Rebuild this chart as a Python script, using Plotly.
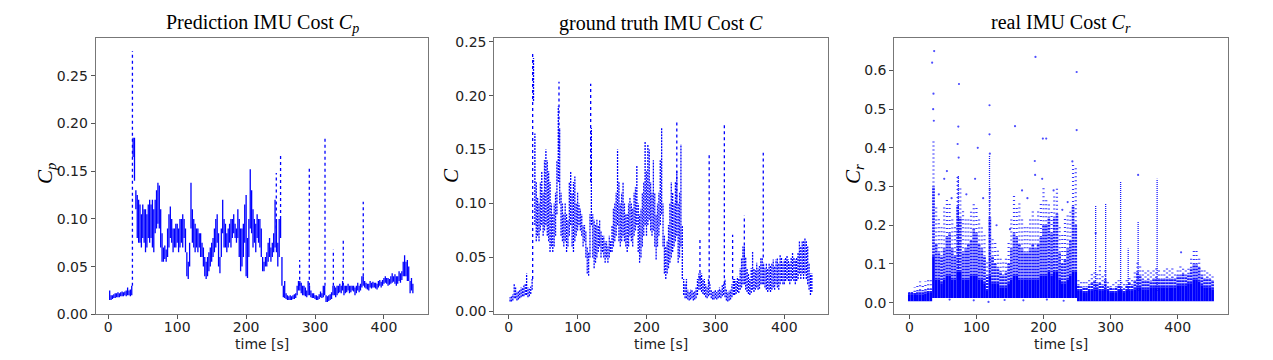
import plotly.graph_objects as go

# ---------------- Panel 1: Prediction IMU cost (2 s bins, t = 2 ... 442) -------------
pred_lo = [
    .015, .015, .016, .017, .017, .018, .018, .018, .019, .019,
    .019, .020, .019, .020, .020, .019, .020, .165, .140, .110,
    .080, .075, .075, .070, .080, .075, .065, .070, .080, .075,
    .080, .070, .065, .085, .090, .095, .090, .070, .055, .055,
    .058, .055, .060, .070, .080, .075, .065, .070, .070, .075,
    .065, .070, .075, .070, .080, .065, .040, .037, .050, .090,
    .075, .070, .065, .070, .065, .070, .060, .060, .050, .040,
    .037, .040, .045, .050, .055, .060, .065, .070, .075, .050,
    .043, .060, .085, .070, .070, .065, .070, .075, .070, .080,
    .085, .080, .075, .080, .060, .045, .050, .060, .075, .040,
    .038, .060, .090, .085, .070, .075, .065, .080, .075, .070,
    .060, .045, .045, .050, .050, .055, .060, .055, .060, .065,
    .070, .065, .050, .060, .080, .030, .018, .017, .016, .015,
    .015, .015, .015, .016, .016, .017, .020, .025, .025, .022,
    .020, .020, .019, .018, .020, .020, .018, .017, .017, .016,
    .015, .015, .016, .018, .017, .018, .020, .013, .013, .014,
    .015, .016, .020, .020, .018, .020, .022, .023, .022, .025,
    .020, .022, .023, .025, .022, .023, .025, .024, .020, .022,
    .025, .023, .025, .028, .030, .028, .027, .026, .025, .028,
    .027, .028, .028, .027, .026, .028, .030, .028, .030, .032,
    .033, .032, .030, .031, .032, .033, .034, .032, .030, .032,
    .035, .033, .036, .040, .040, .040, .035, .035, .022, .025,
    .022]
pred_hi = [
    .025, .020, .020, .021, .022, .022, .023, .022, .023, .024,
    .023, .024, .025, .028, .025, .026, .030, .185, .185, .130,
    .125, .120, .115, .105, .115, .110, .110, .105, .115, .120,
    .115, .120, .110, .120, .130, .138, .135, .110, .085, .070,
    .072, .068, .090, .105, .113, .100, .090, .090, .095, .095,
    .090, .100, .100, .105, .100, .090, .065, .055, .075, .138,
    .110, .100, .095, .090, .090, .085, .085, .075, .070, .060,
    .055, .060, .065, .070, .075, .080, .090, .100, .105, .085,
    .060, .090, .120, .100, .095, .085, .090, .095, .100, .100,
    .105, .095, .090, .110, .100, .090, .090, .095, .115, .125,
    .080, .100, .152, .130, .110, .100, .095, .105, .100, .100,
    .090, .060, .055, .060, .065, .075, .080, .070, .075, .085,
    .120, .100, .075, .100, .100, .060, .030, .035, .022, .020,
    .019, .020, .019, .020, .021, .022, .030, .035, .035, .033,
    .030, .030, .028, .025, .035, .030, .025, .022, .022, .020,
    .020, .019, .021, .024, .022, .030, .030, .020, .019, .020,
    .021, .023, .030, .030, .028, .030, .030, .032, .030, .035,
    .030, .030, .030, .032, .030, .030, .030, .030, .028, .030,
    .033, .030, .032, .040, .040, .035, .033, .032, .032, .035,
    .033, .034, .033, .033, .032, .035, .036, .034, .036, .038,
    .040, .038, .038, .037, .040, .043, .040, .042, .040, .040,
    .045, .043, .045, .055, .062, .055, .057, .050, .035, .038,
    .032]
pred_spike_t = [35, 243.8, 250, 277.7, 291.7, 314.5, 326.6, 341, 370]
pred_spike_lo = [.030, .090, .100, .030, .030, .030, .030, .030, .040]
pred_spike_hi = [.276, .148, .168, .057, .155, .186, .068, .078, .118]

# ---------------- Panel 2: ground truth IMU cost (2 s bins, t = 2 ... 440) -----------
gt_lo = [
    .009, .009, .010, .012, .012, .010, .011, .012, .013, .014,
    .014, .015, .015, .013, .014, .016, .020, .195, .080, .065,
    .070, .065, .075, .080, .070, .075, .080, .070, .065, .055,
    .060, .055, .060, .070, .090, .120, .100, .070, .065, .060,
    .065, .055, .060, .070, .080, .060, .055, .065, .070, .075,
    .080, .075, .070, .060, .065, .050, .035, .033, .050, .080,
    .050, .040, .045, .050, .055, .060, .050, .055, .050, .045,
    .050, .045, .050, .055, .055, .060, .065, .070, .080, .065,
    .060, .065, .070, .065, .060, .055, .060, .070, .065, .060,
    .070, .075, .080, .055, .045, .050, .060, .070, .080, .070,
    .080, .085, .075, .070, .075, .060, .048, .060, .070, .080,
    .090, .060, .035, .030, .035, .040, .045, .050, .055, .060,
    .065, .070, .045, .050, .060, .030, .015, .012, .012, .011,
    .010, .011, .012, .010, .011, .012, .015, .020, .020, .018,
    .016, .015, .013, .012, .014, .015, .012, .011, .011, .012,
    .011, .012, .013, .012, .014, .015, .013, .010, .009, .010,
    .011, .013, .015, .015, .016, .018, .017, .020, .022, .025,
    .025, .020, .018, .016, .015, .017, .020, .018, .020, .022,
    .020, .021, .025, .025, .025, .022, .020, .018, .020, .018,
    .020, .022, .020, .025, .022, .020, .025, .028, .025, .025,
    .028, .030, .028, .025, .028, .030, .028, .025, .028, .030,
    .035, .030, .035, .030, .035, .030, .025, .020, .015, .018]
gt_hi = [
    .013, .014, .016, .026, .022, .018, .019, .020, .022, .022,
    .024, .025, .035, .022, .021, .023, .030, .235, .165, .120,
    .105, .100, .120, .130, .110, .140, .150, .140, .130, .120,
    .100, .090, .100, .110, .140, .190, .170, .110, .100, .090,
    .100, .090, .085, .120, .130, .110, .120, .125, .100, .110,
    .100, .095, .090, .080, .080, .075, .060, .055, .090, .170,
    .090, .085, .080, .085, .080, .085, .075, .070, .070, .065,
    .065, .060, .070, .065, .080, .095, .100, .110, .150, .120,
    .100, .110, .120, .100, .090, .090, .100, .105, .100, .095,
    .110, .115, .135, .100, .090, .095, .110, .120, .157, .130,
    .155, .150, .120, .110, .140, .110, .090, .100, .110, .140,
    .170, .100, .070, .060, .065, .080, .100, .120, .110, .100,
    .120, .130, .100, .110, .155, .080, .030, .025, .030, .020,
    .018, .020, .020, .018, .019, .022, .030, .035, .035, .035,
    .030, .030, .025, .022, .030, .025, .020, .018, .019, .020,
    .018, .020, .022, .020, .025, .025, .030, .020, .018, .019,
    .020, .025, .030, .030, .028, .032, .030, .040, .050, .060,
    .060, .050, .040, .035, .030, .040, .055, .040, .038, .045,
    .040, .042, .050, .050, .045, .040, .045, .040, .045, .042,
    .045, .048, .042, .048, .050, .045, .052, .050, .045, .048,
    .050, .052, .048, .045, .050, .055, .050, .048, .050, .055,
    .065, .060, .065, .065, .068, .065, .060, .045, .035, .035]
gt_spike_t = [34.8, 73, 119, 244, 277.6, 291, 313, 325, 342, 369.5]
gt_spike_lo = [.030, .150, .120, .100, .030, .025, .025, .030, .050, .050]
gt_spike_hi = [.240, .213, .211, .175, .068, .146, .175, .071, .089, .147]

# ---------------- Panel 3: real IMU cost (4 s bins, t = 0 ... 452) -------------------
# lowest dense value per bin (run lengths: t 0-32, t 36-248, t 252-452)
real_floor = [.004] * 9 + [.012] * 54 + [.004] * 51
real_dense = [
    .020, .020, .020, .022, .022, .022, .024, .025, .025, .120,
    .060, .060, .050, .060, .070, .070, .060, .060, .080, .080,
    .060, .060, .060, .070, .070, .070, .060, .060, .050, .030,
    .070, .050, .050, .050, .040, .040, .040, .050, .060, .070,
    .070, .060, .060, .060, .060, .060, .060, .060, .060, .070,
    .070, .070, .080, .070, .080, .080, .060, .050, .050, .060,
    .070, .080, .080, .030, .030, .025, .025, .030, .030, .035,
    .035, .030, .030, .035, .030, .025, .025, .025, .030, .030,
    .025, .030, .030, .030, .035, .040, .040, .035, .035, .035,
    .040, .040, .040, .040, .040, .040, .040, .040, .040, .040,
    .045, .045, .045, .045, .050, .050, .060, .060, .055, .045,
    .040, .040, .040, .035]
real_core = [
    .025, .025, .028, .030, .032, .030, .033, .035, .035, .300,
    .150, .130, .120, .140, .170, .180, .140, .120, .250, .220,
    .130, .140, .150, .160, .190, .180, .150, .140, .120, .070,
    .220, .120, .100, .090, .080, .070, .080, .100, .140, .180,
    .170, .150, .140, .130, .130, .140, .150, .140, .150, .170,
    .200, .200, .220, .180, .220, .230, .130, .100, .110, .140,
    .160, .250, .200, .045, .040, .040, .040, .045, .050, .055,
    .050, .050, .045, .060, .040, .040, .035, .040, .045, .040,
    .035, .045, .050, .045, .055, .080, .070, .060, .055, .060,
    .055, .060, .065, .060, .060, .060, .065, .060, .065, .060,
    .070, .070, .075, .070, .075, .090, .100, .100, .090, .070,
    .060, .065, .060, .055]
real_sparse = [
    .030, .035, .040, .045, .055, .050, .055, .060, .060, .420,
    .250, .220, .200, .250, .270, .260, .220, .200, .330, .300,
    .240, .220, .220, .240, .260, .250, .220, .200, .180, .110,
    .300, .170, .160, .140, .120, .110, .120, .160, .220, .280,
    .250, .260, .220, .200, .200, .220, .240, .220, .240, .260,
    .300, .270, .260, .240, .280, .300, .200, .180, .220, .230,
    .240, .360, .350, .060, .060, .055, .060, .065, .075, .085,
    .080, .100, .070, .090, .055, .050, .050, .055, .060, .060,
    .050, .060, .070, .065, .080, .110, .100, .090, .080, .090,
    .080, .085, .090, .085, .080, .085, .090, .085, .090, .080,
    .090, .095, .090, .090, .095, .120, .140, .140, .120, .090,
    .085, .080, .080, .070]
real_spike_t = [73, 119.5, 277.7, 292.6, 314.9, 326.2, 341, 369.3]
real_spike_hi = [.330, .380, .250, .256, .313, .140, .210, .320]
real_out_t = [34, 37, 36, 35.5, 36.5, 52, 56, 72, 73, 74, 73.5, 98, 102, 119.5, 119.5,
              120, 157.5, 168, 188, 187, 187.5, 199, 204, 198, 249.4, 249.4, 243, 341,
              405, 277.7, 44, 63, 85, 110, 130, 150, 176, 215, 228, 236,
              60, 96, 118, 142, 170, 205, 230]
real_out_v = [.620, .650, .540, .500, .470, .320, .340, .410, .455, .565, .375, .320, .400,
              .435, .510, .385, .456, .290, .635, .366, .330, .424, .424, .320, .446, .596,
              .365, .330, .130, .180, .280, .270, .280, .270, .200, .190, .270, .290, .240,
              .260, .008, .006, .002, .007, .006, .008, .005]

xticks = [0, 100, 200, 300, 400]
BLUE = "#0000ff"


def segs(ts, lo, hi):
    xs, ys = [], []
    for t, a, b in zip(ts, lo, hi):
        xs += [t, t, None]
        ys += [a, b, None]
    return xs, ys


t_pred = [2 * (i + 1) for i in range(len(pred_lo))]
t_gt = [2 * (i + 1) for i in range(len(gt_lo))]
t_real = [4 * i for i in range(len(real_dense))]

fig = go.Figure()

# panel 1
x, y = segs(t_pred, pred_lo, pred_hi)
fig.add_trace(go.Scatter(x=x, y=y, mode="lines", line=dict(color=BLUE, width=1.3),
                         xaxis="x", yaxis="y", hoverinfo="skip"))
x, y = segs(pred_spike_t, pred_spike_lo, pred_spike_hi)
fig.add_trace(go.Scatter(x=x, y=y, mode="lines", line=dict(color=BLUE, width=1.3, dash="dot"),
                         xaxis="x", yaxis="y", hoverinfo="skip"))

# panel 2
x, y = segs(t_gt, gt_lo, gt_hi)
fig.add_trace(go.Scatter(x=x, y=y, mode="lines",
                         line=dict(color=BLUE, width=1.3, dash="2px,1px"),
                         xaxis="x2", yaxis="y2", hoverinfo="skip"))
x, y = segs(gt_spike_t, gt_spike_lo, gt_spike_hi)
fig.add_trace(go.Scatter(x=x, y=y, mode="lines", line=dict(color=BLUE, width=1.3, dash="dot"),
                         xaxis="x2", yaxis="y2", hoverinfo="skip"))

# panel 3
x, y = segs(t_real, real_core, real_sparse)
fig.add_trace(go.Scatter(x=x, y=y, mode="lines",
                         line=dict(color=BLUE, width=2.2, dash="1px,3px"),
                         opacity=0.8, xaxis="x3", yaxis="y3", hoverinfo="skip"))
x, y = segs(t_real, real_dense, real_core)
fig.add_trace(go.Scatter(x=x, y=y, mode="lines",
                         line=dict(color=BLUE, width=2.7, dash="2px,1px"),
                         opacity=0.9, xaxis="x3", yaxis="y3", hoverinfo="skip"))
x, y = segs(t_real, real_floor, real_dense)
fig.add_trace(go.Scatter(x=x, y=y, mode="lines", line=dict(color=BLUE, width=2.7),
                         xaxis="x3", yaxis="y3", hoverinfo="skip"))
x, y = segs(real_spike_t, [0.03] * len(real_spike_t), real_spike_hi)
fig.add_trace(go.Scatter(x=x, y=y, mode="lines",
                         line=dict(color=BLUE, width=1.3, dash="1px,1px"),
                         opacity=0.9, xaxis="x3", yaxis="y3", hoverinfo="skip"))
fig.add_trace(go.Scatter(x=real_out_t, y=real_out_v, mode="markers",
                         marker=dict(color=BLUE, size=2.2, opacity=0.7),
                         xaxis="x3", yaxis="y3", hoverinfo="skip"))

# page body has an 8 px margin: the figure is laid out in page pixels minus that offset
OFF = 8
W, H = 1273 - 2 * OFF, 360 - 2 * OFF


def px(xp):
    return (xp - OFF) / W


def py(yp):
    return 1 - (yp - OFF) / H


boxes = [(95.7, 428.3), (494.3, 828.3), (894.3, 1227.7)]
ydom = [py(314.3), py(38.3)]
xranges = [[-18.3, 464.4], [-20.9, 463.9], [-22.4, 474.5]]
yranges = [[0, 0.2893], [-0.0028, 0.2532], [-0.030, 0.683]]
yticks = [[0, .05, .10, .15, .20, .25], [0, .05, .10, .15, .20, .25],
          [0, .1, .2, .3, .4, .5, .6]]
yfmt = [".2f", ".2f", ".1f"]

tickfont = dict(family="DejaVu Sans", size=14, color="#222")
common = dict(showgrid=False, zeroline=False, showline=True, mirror=True,
              linecolor="#777", linewidth=1, ticks="outside", ticklen=4,
              tickcolor="#555", tickfont=tickfont, automargin=False)
layout = dict(width=W, height=H, margin=dict(l=0, r=0, t=0, b=0, pad=0),
              paper_bgcolor="white", plot_bgcolor="white", showlegend=False)
for i in range(3):
    sx = "" if i == 0 else str(i + 1)
    layout["xaxis" + sx] = dict(domain=[px(boxes[i][0]), px(boxes[i][1])],
                                range=xranges[i], tickvals=xticks,
                                ticklabelstandoff=-4,
                                anchor="y" + sx, **common)
    layout["yaxis" + sx] = dict(domain=ydom, range=yranges[i], tickvals=yticks[i],
                                tickformat=yfmt[i], anchor="x" + sx, **common)
fig.update_layout(**layout)

titles = ["Prediction IMU Cost <i>C<sub>p</sub></i>",
          "ground truth IMU Cost <i>C</i>",
          "real IMU Cost <i>C<sub>r</sub></i>"]
ylabels = ["<i>C<sub>p</sub></i>", "<i>C</i>", "<i>C<sub>r</sub></i>"]
ylab_x = [46, 451, 854]
ylab_y = [174, 176, 174]
serif = "Liberation Serif"
for i in range(3):
    cx = (boxes[i][0] + boxes[i][1]) / 2
    fig.add_annotation(x=px(cx), y=py(24), xref="paper", yref="paper",
                       text=titles[i], showarrow=False, xanchor="center", yanchor="middle",
                       borderpad=0, font=dict(family=serif, size=20, color="black"))
    fig.add_annotation(x=px(cx), y=py(344), xref="paper", yref="paper",
                       text="time [s]", showarrow=False, xanchor="center", yanchor="middle",
                       height=14, borderpad=0, valign="middle",
                       font=dict(family="DejaVu Sans", size=14, color="#222"))
    fig.add_annotation(x=px(ylab_x[i]), y=py(ylab_y[i]), xref="paper", yref="paper",
                       text=ylabels[i], showarrow=False, textangle=-90,
                       xanchor="center", yanchor="middle", borderpad=0,
                       font=dict(family=serif, size=21, color="black"))

fig.write_html("out.html")
